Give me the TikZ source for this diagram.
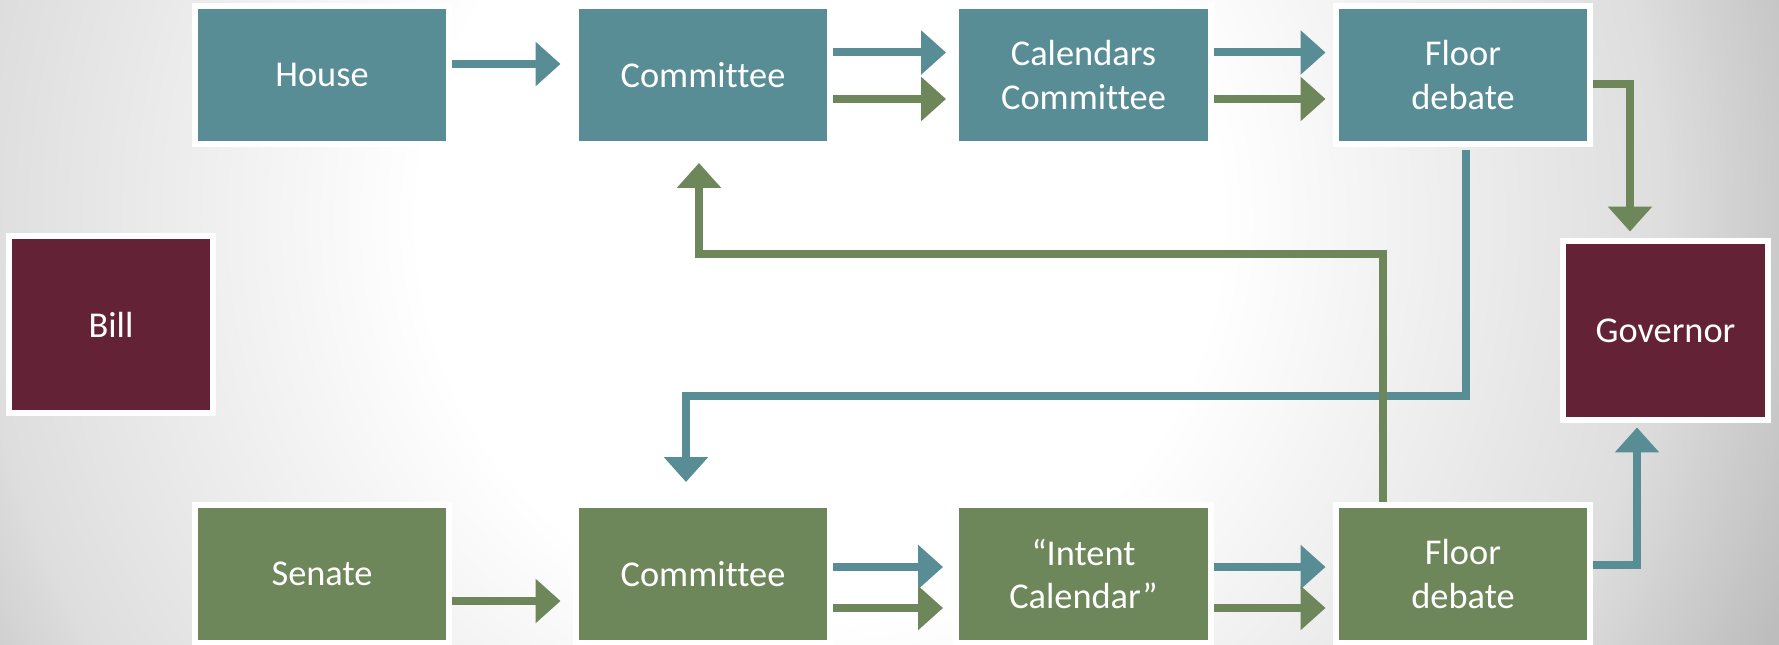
\documentclass[tikz,border=0pt]{standalone}
\usepackage{fontspec}
\setmainfont{Carlito}[Ligatures=NoCommon]
\usetikzlibrary{arrows.meta,calc}
\definecolor{tealc}{HTML}{588D96}
\definecolor{greenc}{HTML}{6E875A}
\definecolor{maroonc}{HTML}{642237}
\pgfdeclareradialshading{bgshade}{\pgfpoint{0bp}{0bp}}{color(0bp)=(white); color(10bp)=(white); color(21bp)=(black!13); color(26bp)=(black!26); color(50bp)=(black!26)}
\begin{document}
\begin{tikzpicture}[x=0.02cm,y=-0.02cm,
  box/.style={draw=white, line width=0.12cm, minimum width=5.1cm, minimum height=2.76cm,
    inner sep=0pt, text=white, align=center, font=\fontsize{20.7}{25}\selectfont},
  tbox/.style={box, fill=tealc},
  gbox/.style={box, fill=greenc},
  mbox/.style={box, fill=maroonc},
  arr/.style={line width=0.16cm, -{Triangle[length=0.5cm,width=0.86cm]}}]
\useasboundingbox (0,0) rectangle (1779,645);
\begin{scope}
  \clip (0,0) rectangle (1779,645);
  \shade[shading=bgshade] (-180,-780) rectangle (1820,1220);
\end{scope}
% top row
\node[tbox] (house)  at (322,75) {House};
\node[tbox] (comt)   at (703,75) {Committee};
\node[tbox] (cal)    at (1083.5,75) {Calendars\\Committee};
\node[tbox] (floort) at (1463,75) {Floor\\debate};
% bottom row
\node[gbox] (senate) at (322,574) {Senate};
\node[gbox] (comb)   at (703,574) {Committee};
\node[gbox] (intent) at (1083.5,574) {“Intent\\Calendar”};
\node[gbox] (floorb) at (1463,574) {Floor\\debate};
% ends
\node[mbox, minimum width=4.1cm, minimum height=3.54cm] (bill) at (111,324.5) {Bill};
\node[mbox, minimum width=4.12cm, minimum height=3.6cm] (gov) at (1665.5,330.5) {Governor};
% teal connectors
\draw[arr,tealc] ($(house.east)+(0,-11)$) -- ($(comt.west)+(-12,-11)$);
\draw[arr,tealc] ($(comt.east)+(0,-22.5)$) -- ($(cal.west)+(-7,-22.5)$);
\draw[arr,tealc] ($(cal.east)+(0,-22.5)$) -- ($(floort.west)+(-7,-22.5)$);
\draw[arr,tealc] ($(comb.east)+(0,-7)$) -- ($(intent.west)+(-10,-7)$);
\draw[arr,tealc] ($(intent.east)+(0,-7)$) -- ($(floorb.west)+(-7,-7)$);
\draw[arr,tealc] ($(floort.south)+(3,3)$) -- ++(0,246) -| ($(comb.north)+(-17,-20)$);
\draw[arr,tealc] ($(floorb.east)+(0,-9)$) -| ($(gov.south)+(-28.5,4)$);
% green connectors
\draw[arr,greenc] ($(comt.east)+(0,24)$) -- ($(cal.west)+(-7,24)$);
\draw[arr,greenc] ($(cal.east)+(0,24)$) -- ($(floort.west)+(-7,24)$);
\draw[arr,greenc] ($(senate.east)+(0,27)$) -- ($(comb.west)+(-12,27)$);
\draw[arr,greenc] ($(comb.east)+(0,34)$) -- ($(intent.west)+(-10,34)$);
\draw[arr,greenc] ($(intent.east)+(0,34)$) -- ($(floorb.west)+(-7,34)$);
\draw[arr,greenc] ($(floort.east)+(0,9)$) -| ($(gov.north)+(-35.5,-6)$);
\draw[arr,greenc] ($(floorb.north)+(-80,0)$) -- ++(0,-248) -| ($(comt.south)+(-4,16)$);
\end{tikzpicture}
\end{document}
